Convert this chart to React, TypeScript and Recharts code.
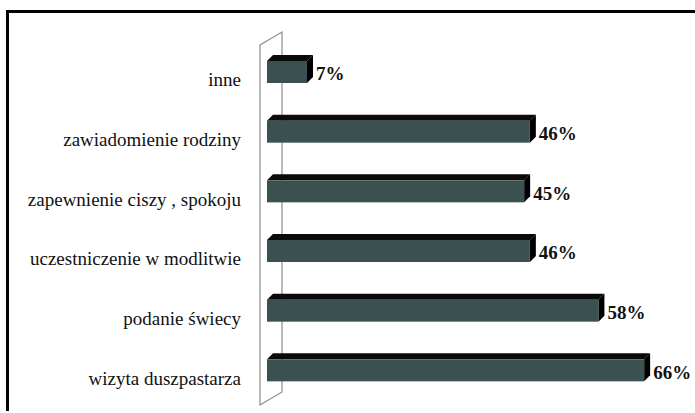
import { Bar, BarChart, LabelList, ReferenceArea, XAxis, YAxis } from "recharts";

// Categories from top to bottom, shares in percent
const categories = [
  "inne",
  "zawiadomienie rodziny",
  "zapewnienie ciszy , spokoju",
  "uczestniczenie w modlitwie",
  "podanie świecy",
  "wizyta duszpastarza",
];
const shares = [7, 46, 45, 46, 58, 66];

const data = categories.map((name, i) => ({ name, value: shares[i] }));

const DEPTH = 6;
const FACE = "#3b5050";
const SERIF = "'Liberation Serif', 'Times New Roman', serif";

// 3D-looking bar: front face plus a black top and right side
function Bar3D(props: any) {
  const { x, y, width, height } = props;
  if (width == null || width <= 0) return null;
  const d = DEPTH;
  return (
    <g>
      <polygon
        points={`${x},${y} ${x + d},${y - d} ${x + width + d},${y - d} ${x + width},${y}`}
        fill="#0a0a0a"
      />
      <polygon
        points={`${x + width},${y} ${x + width + d},${y - d} ${x + width + d},${y + height - d} ${x + width},${y + height}`}
        fill="#000"
      />
      <rect x={x} y={y} width={width} height={height} fill={FACE} />
    </g>
  );
}

// Thin outlined side wall behind the bars
function Wall(props: any) {
  const { x, y, height } = props;
  const fx = x - 7;
  const bx = x + 15;
  const pts = [
    [fx, y + 3],
    [bx, y - 10],
    [bx, y + height - 8],
    [fx, y + height + 5],
  ]
    .map((p) => p.join(","))
    .join(" ");
  return <polygon points={pts} fill="none" stroke="#8c8c8c" strokeWidth={1.2} />;
}

function CategoryTick(props: any) {
  const { x, y, payload } = props;
  return (
    <text
      x={x - 18}
      y={y + 10}
      textAnchor="end"
      fontFamily={SERIF}
      fontSize={19}
      fill="#111"
      dominantBaseline="middle"
    >
      {payload.value}
    </text>
  );
}

function ValueLabel(props: any) {
  const { x, y, width, height, value } = props;
  return (
    <text
      x={x + width + DEPTH + 3}
      y={y + height / 2 + 4}
      fontFamily={SERIF}
      fontWeight="bold"
      fontSize={19}
      fill="#111"
      dominantBaseline="middle"
    >
      {value}%
    </text>
  );
}

export default function App() {
  return (
    <div style={{ position: "absolute", left: 0, top: 0, width: 695, height: 413, background: "#fff" }}>
      <div
        style={{
          position: "absolute",
          left: 6,
          top: 10,
          width: 689,
          height: 398,
          borderTop: "3px solid #000",
          borderLeft: "3px solid #000",
        }}
      />
      <BarChart
        width={695}
        height={413}
        data={data}
        layout="vertical"
        margin={{ top: 42, right: 28, bottom: 13, left: 0 }}
        barCategoryGap={0}
        style={{ position: "absolute", left: 0, top: 0 }}
      >
        <XAxis type="number" domain={[0, 70]} hide />
        <YAxis
          type="category"
          dataKey="name"
          width={267}
          axisLine={false}
          tickLine={false}
          tick={<CategoryTick />}
          interval={0}
        />
        <ReferenceArea x1={0} x2={70} ifOverflow="visible" shape={<Wall />} />
        <Bar dataKey="value" barSize={22} shape={<Bar3D />} isAnimationActive={false}>
          <LabelList dataKey="value" content={<ValueLabel />} />
        </Bar>
      </BarChart>
    </div>
  );
}
